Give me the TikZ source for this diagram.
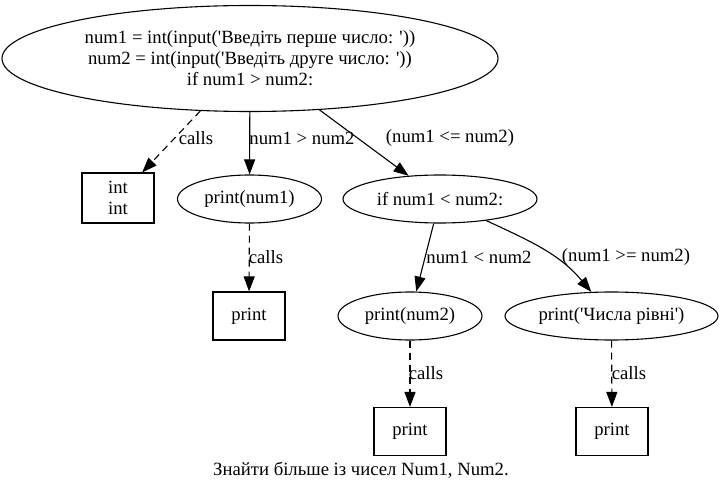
\documentclass[tikz,border=0pt]{standalone}
\usepackage{fontspec}
\setmainfont{Liberation Serif}
\usetikzlibrary{shapes.geometric}
\usetikzlibrary{arrows.meta}
\newcommand{\sq}{\textquotesingle}

\begin{document}
\begin{tikzpicture}[x=1bp, y=1bp, line width=1.1bp,
    font=\fontsize{18.7bp}{21bp}\selectfont,
    >={Triangle[length=15bp,width=11bp]},
    oval/.style={draw, ellipse, inner sep=0pt, align=center},
    box/.style={draw, rectangle, inner sep=0pt, align=center},
    callsedge/.style={->, dash pattern=on 7bp off 5bp},
    lbl/.style={inner sep=0pt}]
    \useasboundingbox (0,0) rectangle (725,-492); % page
    % nodes
    \node[oval, minimum width=496bp, minimum height=106bp] (src) at (250,-58.5)
        {num1 = int(input(\sq Введіть перше число: \sq))\\num2 = int(input(\sq Введіть друге число: \sq))\\if num1 > num2:};
    \node[box, minimum width=72bp, minimum height=50bp] (intbox) at (118,-198) {int\\int};
    \node[oval, minimum width=144bp, minimum height=48bp] (pnum1) at (249.5,-199) {print(num1)};
    \node[oval, minimum width=194bp, minimum height=48bp] (ifless) at (440,-199) {if num1 < num2:};
    \node[box, minimum width=72bp, minimum height=48bp] (prbox1) at (249,-316) {print};
    \node[oval, minimum width=144bp, minimum height=48bp] (pnum2) at (410,-316) {print(num2)};
    \node[oval, minimum width=213bp, minimum height=48bp] (peq) at (611.5,-316) {print(\sq Числа рівні\sq)};
    \node[box, minimum width=72bp, minimum height=48bp] (prbox2) at (410,-431.5) {print};
    \node[box, minimum width=72bp, minimum height=48bp] (prbox3) at (612,-431.5) {print};
    % edges
    \draw[callsedge] (src) -- (intbox);
    \draw[->] (src) -- (pnum1);
    \draw[->] (src) -- (ifless);
    \draw[callsedge] (pnum1) -- (prbox1);
    \draw[->] (ifless) -- (pnum2);
    \draw[->] (ifless) to[out=-25, in=130] (peq);
    \draw[callsedge] (pnum2) -- (prbox2);
    \draw[callsedge] (peq) -- (prbox3);
    % labels
    \node[lbl] (calls1) at (196,-138) {calls};
    \node[lbl] (gt) at (302,-138) {num1 > num2};
    \node[lbl] (le) at (450,-138) {(num1 <= num2)};
    \node[lbl] (calls2) at (266,-257) {calls};
    \node[lbl] (lt) at (479,-257) {num1 < num2};
    \node[lbl] (ge) at (626,-257) {(num1 >= num2)};
    \node[lbl] (calls3) at (426,-373) {calls};
    \node[lbl] (calls4) at (629,-373) {calls};
    \node[lbl] (caption) at (361,-470) {Знайти більше із чисел Num1, Num2.};
\end{tikzpicture}
\end{document}
